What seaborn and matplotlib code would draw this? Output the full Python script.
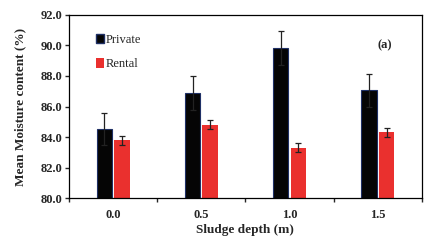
import matplotlib
matplotlib.use("Agg")
import matplotlib.pyplot as plt
import seaborn as sns
import pandas as pd
import numpy as np
from matplotlib.patches import Patch

depths = ["0.0", "0.5", "1.0", "1.5"]
private_vals = [84.55, 86.9, 89.85, 87.05]
private_err = [1.05, 1.1, 1.1, 1.05]
rental_vals = [83.8, 84.8, 83.3, 84.3]
rental_err = [0.3, 0.3, 0.3, 0.3]
groups = ["Private", "Rental"]
yticks = [80.0, 82.0, 84.0, 86.0, 88.0, 90.0, 92.0]

df = pd.DataFrame({
    "depth": depths * 2,
    "value": private_vals + rental_vals,
    "err": private_err + rental_err,
    "type": [groups[0]] * 4 + [groups[1]] * 4,
})

sns.set_style("white")
plt.rcParams["font.family"] = ["Liberation Serif", "DejaVu Serif"]

colors = {"Private": "#050505", "Rental": "#EA302E"}
fig = plt.figure(figsize=(4.34, 2.41), dpi=100)
ax = fig.add_axes([0.159, 0.178, 0.813, 0.76])
sns.barplot(data=df, x="depth", y="value", hue="type", palette=colors,
            width=0.4, gap=0.12, ax=ax, legend=False, errorbar=None, saturation=1)

bars = ax.patches
n = len(depths)
for i, p in enumerate(bars[:2 * n]):
    if i < n:
        p.set_edgecolor("#1F3066")
        p.set_linewidth(0.8)
    else:
        p.set_edgecolor("none")
    cx = p.get_x() + p.get_width() / 2
    h = p.get_height()
    err = df["err"].iloc[i]
    ax.errorbar(cx, h, yerr=err, color="#222222", capsize=2.5, elinewidth=0.9,
                capthick=0.9, zorder=5)

ax.set_ylim(80, 92)
ax.set_xlim(-0.5, 3.5)
ax.set_yticks(yticks)
ax.set_yticklabels([f"{v:.1f}" for v in yticks], fontweight="bold", fontsize=9)
ax.set_xticks(range(n))
ax.set_xticklabels(depths, fontweight="bold", fontsize=9)
ax.set_xticks(np.arange(-0.5, n, 1.0), minor=True)
ax.tick_params(axis="x", which="major", length=0, pad=8)
ax.tick_params(axis="x", which="minor", length=3, direction="out", width=1, bottom=True)
ax.tick_params(axis="y", which="major", length=3, direction="out", width=1, left=True, pad=2)

for s in ax.spines.values():
    s.set_color("black")
    s.set_linewidth(0.9)

ax.set_xlabel("Sludge depth (m)", fontweight="bold", fontsize=9.5, labelpad=2)
ax.set_ylabel("Mean Moisture content (%)", fontweight="bold", fontsize=9.5, labelpad=10)

handles = [Patch(facecolor=colors[g], edgecolor=("#1F3066" if g == "Private" else "none")) for g in groups]
ax.legend(handles, groups, loc="upper left", bbox_to_anchor=(0.045, 0.96), frameon=False,
          handlelength=0.6, handleheight=0.8, handletextpad=0.2, labelspacing=1.0,
          prop={"size": 9, "family": ["Liberation Serif"]})

ax.text(0.895, 0.835, "(a)", transform=ax.transAxes, fontweight="bold", fontsize=9,
        ha="center", va="center")

fig.savefig("out.png", dpi=100)
